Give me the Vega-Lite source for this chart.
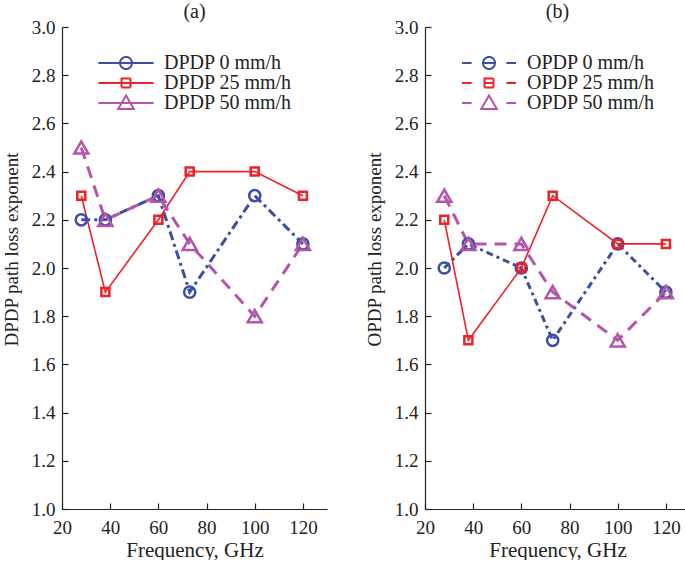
{
  "$schema": "https://vega.github.io/schema/vega-lite/v6.json",
  "padding": {"left": 2, "top": 2, "right": 0, "bottom": 0},
  "spacing": 38,
  "background": "white",
  "config": {
    "font": "Liberation Serif",
    "view": {"stroke": null},
    "axis": {
      "labelFont": "Liberation Serif",
      "titleFont": "Liberation Serif",
      "labelFontSize": 19,
      "titleFontSize": 21,
      "titleFontWeight": "normal",
      "labelColor": "#222",
      "titleColor": "#222",
      "domainColor": "#222",
      "tickColor": "#222",
      "grid": false,
      "domainWidth": 1.2,
      "tickWidth": 1.2
    },
    "axisY": {"titleFontSize": 19},
    "title": {"font": "Liberation Serif", "fontSize": 20, "fontWeight": "normal", "color": "#222"},
    "legend": {
      "labelFont": "Liberation Serif",
      "labelFontSize": 20,
      "labelColor": "#222",
      "orient": "none",
      "padding": 0,
      "rowPadding": -3,
      "symbolSize": 144,
      "symbolStrokeWidth": 2,
      "symbolFillColor": "transparent",
      "symbolDash": [1, 0],
      "labelOffset": 28
    }
  },
  "datasets": {
    "a": [
      {"series": "DPDP 0 mm/h", "f": 28, "v": 2.2},
      {"series": "DPDP 0 mm/h", "f": 38, "v": 2.2},
      {"series": "DPDP 0 mm/h", "f": 60, "v": 2.3},
      {"series": "DPDP 0 mm/h", "f": 73, "v": 1.9},
      {"series": "DPDP 0 mm/h", "f": 100, "v": 2.3},
      {"series": "DPDP 0 mm/h", "f": 120, "v": 2.1},
      {"series": "DPDP 25 mm/h", "f": 28, "v": 2.3},
      {"series": "DPDP 25 mm/h", "f": 38, "v": 1.9},
      {"series": "DPDP 25 mm/h", "f": 60, "v": 2.2},
      {"series": "DPDP 25 mm/h", "f": 73, "v": 2.4},
      {"series": "DPDP 25 mm/h", "f": 100, "v": 2.4},
      {"series": "DPDP 25 mm/h", "f": 120, "v": 2.3},
      {"series": "DPDP 50 mm/h", "f": 28, "v": 2.5},
      {"series": "DPDP 50 mm/h", "f": 38, "v": 2.2},
      {"series": "DPDP 50 mm/h", "f": 60, "v": 2.3},
      {"series": "DPDP 50 mm/h", "f": 73, "v": 2.1},
      {"series": "DPDP 50 mm/h", "f": 100, "v": 1.8},
      {"series": "DPDP 50 mm/h", "f": 120, "v": 2.1}
    ],
    "b": [
      {"series": "OPDP 0 mm/h", "f": 28, "v": 2.0},
      {"series": "OPDP 0 mm/h", "f": 38, "v": 2.1},
      {"series": "OPDP 0 mm/h", "f": 60, "v": 2.0},
      {"series": "OPDP 0 mm/h", "f": 73, "v": 1.7},
      {"series": "OPDP 0 mm/h", "f": 100, "v": 2.1},
      {"series": "OPDP 0 mm/h", "f": 120, "v": 1.9},
      {"series": "OPDP 25 mm/h", "f": 28, "v": 2.2},
      {"series": "OPDP 25 mm/h", "f": 38, "v": 1.7},
      {"series": "OPDP 25 mm/h", "f": 60, "v": 2.0},
      {"series": "OPDP 25 mm/h", "f": 73, "v": 2.3},
      {"series": "OPDP 25 mm/h", "f": 100, "v": 2.1},
      {"series": "OPDP 25 mm/h", "f": 120, "v": 2.1},
      {"series": "OPDP 50 mm/h", "f": 28, "v": 2.3},
      {"series": "OPDP 50 mm/h", "f": 38, "v": 2.1},
      {"series": "OPDP 50 mm/h", "f": 60, "v": 2.1},
      {"series": "OPDP 50 mm/h", "f": 73, "v": 1.9},
      {"series": "OPDP 50 mm/h", "f": 100, "v": 1.7},
      {"series": "OPDP 50 mm/h", "f": 120, "v": 1.9}
    ]
  },
  "resolve": {
    "scale": {"color": "independent", "shape": "independent"},
    "legend": {"color": "independent", "shape": "independent"}
  },
  "hconcat": [
    {
      "width": 265,
      "height": 482,
      "title": {"text": "(a)", "offset": -4},
      "data": {"name": "a"},
      "encoding": {
        "x": {"field": "f", "type": "quantitative", "scale": {"domain": [20, 130], "nice": false},
          "axis": {"title": "Frequency, GHz", "values": [20, 40, 60, 80, 100, 120], "tickSize": -6, "labelPadding": 15, "titlePadding": 2, "labelFlush": false}},
        "y": {"field": "v", "type": "quantitative", "scale": {"domain": [1, 3], "nice": false, "zero": false},
          "axis": {"title": "DPDP path loss exponent", "values": [1.0, 1.2, 1.4, 1.6, 1.8, 2.0, 2.2, 2.4, 2.6, 2.8, 3.0], "format": ".1f", "tickSize": -6, "labelPadding": 13, "titlePadding": 10, "titleY": 222, "labelFlush": false}},
        "color": {"field": "series", "type": "nominal",
          "scale": {"domain": ["DPDP 0 mm/h", "DPDP 25 mm/h", "DPDP 50 mm/h"], "range": ["#3c4fa3", "#ee2028", "#b455a9"]},
          "legend": {"title": null, "legendX": 54, "legendY": 26, "symbolFillColor": "transparent",
            "encode": {"symbols": {"update": {"fill": {"value": "transparent"}, "strokeWidth": {"value": 2}, "strokeDash": {"value": [1, 0]}}}}}}
      },
      "layer": [
        {"transform": [{"filter": "datum.series === 'DPDP 0 mm/h'"}],
         "mark": {"type": "line", "strokeWidth": 3, "strokeDash": [9, 4, 3, 4]}},
        {"transform": [{"filter": "datum.series === 'DPDP 25 mm/h'"}],
         "mark": {"type": "line", "strokeWidth": 1.6}},
        {"transform": [{"filter": "datum.series === 'DPDP 50 mm/h'"}],
         "mark": {"type": "line", "strokeWidth": 3, "strokeDash": [12, 8]}},
        {"transform": [{"filter": "datum.series === 'DPDP 0 mm/h'"}],
         "mark": {"type": "point", "shape": "circle", "size": 125, "filled": false, "strokeWidth": 2.5, "opacity": 1}},
        {"transform": [{"filter": "datum.series === 'DPDP 25 mm/h'"}],
         "mark": {"type": "point", "shape": "square", "size": 64, "filled": false, "strokeWidth": 2.5, "opacity": 1}},
        {"transform": [{"filter": "datum.series === 'DPDP 50 mm/h'"}],
         "mark": {"type": "point", "shape": "triangle-up", "size": 200, "filled": false, "strokeWidth": 2.5, "opacity": 1}},
        {"transform": [{"filter": "false"}],
         "mark": {"type": "point", "filled": false, "strokeWidth": 2, "opacity": 1},
         "encoding": {
           "shape": {"field": "series", "type": "nominal",
             "scale": {"domain": ["DPDP 0 mm/h", "DPDP 25 mm/h", "DPDP 50 mm/h"],
               "range": ["M-4.6,0H4.6M1,0A1,1 0 1,1 -1,0A1,1 0 1,1 1,0", "M-4.6,0H4.6M-0.75,-0.75H0.75V0.75H-0.75Z", "M-4.6,0H4.6M0,-1.25L1.3,1L-1.3,1Z"]},
             "legend": {"title": null, "legendX": 54, "legendY": 26}}
         }}
      ]
    },
    {
      "width": 265,
      "height": 482,
      "title": {"text": "(b)", "offset": -4},
      "data": {"name": "b"},
      "encoding": {
        "x": {"field": "f", "type": "quantitative", "scale": {"domain": [20, 130], "nice": false},
          "axis": {"title": "Frequency, GHz", "values": [20, 40, 60, 80, 100, 120], "tickSize": -6, "labelPadding": 15, "titlePadding": 2, "labelFlush": false}},
        "y": {"field": "v", "type": "quantitative", "scale": {"domain": [1, 3], "nice": false, "zero": false},
          "axis": {"title": "OPDP path loss exponent", "values": [1.0, 1.2, 1.4, 1.6, 1.8, 2.0, 2.2, 2.4, 2.6, 2.8, 3.0], "format": ".1f", "tickSize": -6, "labelPadding": 13, "titlePadding": 10, "titleY": 222, "labelFlush": false}},
        "color": {"field": "series", "type": "nominal",
          "scale": {"domain": ["OPDP 0 mm/h", "OPDP 25 mm/h", "OPDP 50 mm/h"], "range": ["#3c4fa3", "#ee2028", "#b455a9"]},
          "legend": {"title": null, "legendX": 54, "legendY": 26, "symbolFillColor": "transparent",
            "encode": {"symbols": {"update": {"fill": {"value": "transparent"}, "strokeWidth": {"value": 2}, "strokeDash": {"value": [1, 0]}}}}}}
      },
      "layer": [
        {"transform": [{"filter": "datum.series === 'OPDP 0 mm/h'"}],
         "mark": {"type": "line", "strokeWidth": 3, "strokeDash": [7, 4, 3, 4]}},
        {"transform": [{"filter": "datum.series === 'OPDP 25 mm/h'"}],
         "mark": {"type": "line", "strokeWidth": 1.6}},
        {"transform": [{"filter": "datum.series === 'OPDP 50 mm/h'"}],
         "mark": {"type": "line", "strokeWidth": 3, "strokeDash": [12, 8]}},
        {"transform": [{"filter": "datum.series === 'OPDP 0 mm/h'"}],
         "mark": {"type": "point", "shape": "circle", "size": 125, "filled": false, "strokeWidth": 2.5, "opacity": 1}},
        {"transform": [{"filter": "datum.series === 'OPDP 25 mm/h'"}],
         "mark": {"type": "point", "shape": "square", "size": 64, "filled": false, "strokeWidth": 2.5, "opacity": 1}},
        {"transform": [{"filter": "datum.series === 'OPDP 50 mm/h'"}],
         "mark": {"type": "point", "shape": "triangle-up", "size": 200, "filled": false, "strokeWidth": 2.5, "opacity": 1}},
        {"transform": [{"filter": "false"}],
         "mark": {"type": "point", "filled": false, "strokeWidth": 2, "opacity": 1},
         "encoding": {
           "shape": {"field": "series", "type": "nominal",
             "scale": {"domain": ["OPDP 0 mm/h", "OPDP 25 mm/h", "OPDP 50 mm/h"],
               "range": ["M-4.5,0H-2.9M2.9,0H4.5M-1,0H1M1,0A1,1 0 1,1 -1,0A1,1 0 1,1 1,0", "M-4.5,0H-2.9M2.9,0H4.5M-0.75,0H0.75M-0.75,-0.75H0.75V0.75H-0.75Z", "M-4.5,0H-2.9M2.9,0H4.5M0,-1.25L1.3,1L-1.3,1Z"]},
             "legend": {"title": null, "legendX": 54, "legendY": 26}}
         }}
      ]
    }
  ]
}
